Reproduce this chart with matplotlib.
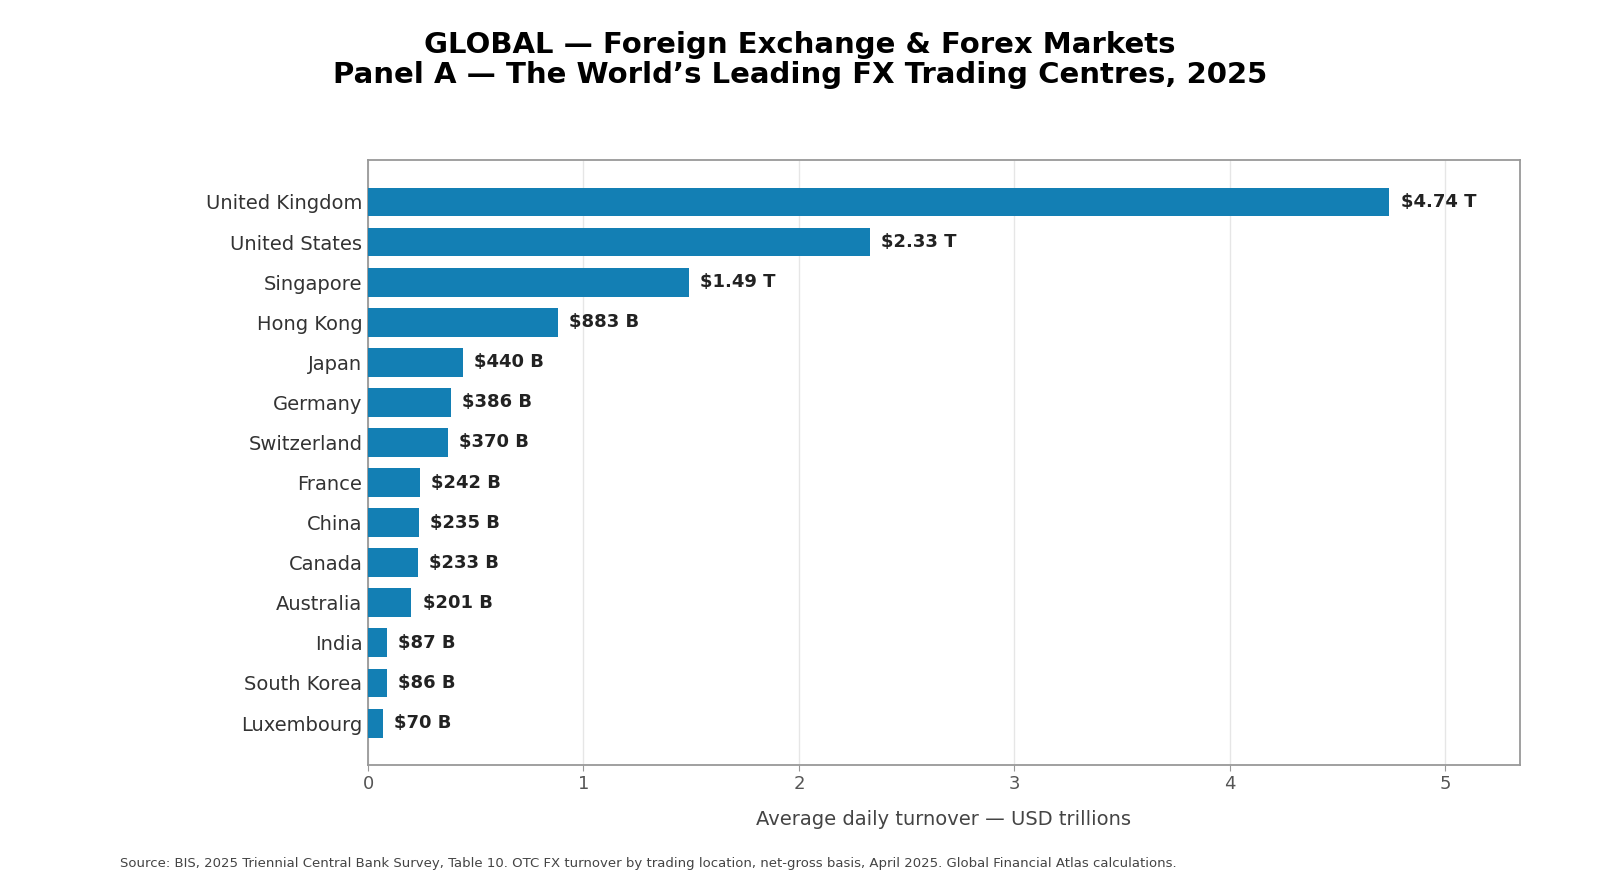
import matplotlib
matplotlib.use("Agg")
import matplotlib.pyplot as plt

countries = ["United Kingdom", "United States", "Singapore", "Hong Kong", "Japan",
             "Germany", "Switzerland", "France", "China", "Canada", "Australia",
             "India", "South Korea", "Luxembourg"]
turnover = [4.74, 2.33, 1.49, 0.883, 0.440, 0.386, 0.370, 0.242, 0.235, 0.233,
            0.201, 0.087, 0.086, 0.070]
labels = ["$4.74 T", "$2.33 T", "$1.49 T", "$883 B", "$440 B", "$386 B", "$370 B",
          "$242 B", "$235 B", "$233 B", "$201 B", "$87 B", "$86 B", "$70 B"]
xticks = [0, 1, 2, 3, 4, 5]

fig = plt.figure(figsize=(16, 8.9), dpi=100)
L, R, T, B = 368, 1520, 160, 765
ax = fig.add_axes([L/1600, 1-B/890, (R-L)/1600, (B-T)/890])

y = list(range(len(countries)))
ax.barh(y, turnover, height=0.72, color="#137fb4", zorder=3)
ax.invert_yaxis()
ax.set_yticks(y)
ax.set_yticklabels(countries, fontsize=14, color="#333333")
ax.set_xticks(xticks)
ax.set_xticklabels([str(t) for t in xticks], fontsize=13, color="#555555")
ax.set_xlim(0, 5.346)
ax.grid(axis="x", color="#e6e6e6", linewidth=1, zorder=0)
ax.tick_params(axis="y", length=0, pad=4)
ax.tick_params(axis="x", length=4, color="#999999")
for s in ax.spines.values():
    s.set_color("#999999")
    s.set_linewidth(1.3)

for yi, v, lab in zip(y, turnover, labels):
    ax.text(v + 0.052, yi, lab, va="center", ha="left", fontsize=13,
            fontweight="bold", color="#222222", zorder=4)

ax.set_xlabel("Average daily turnover — USD trillions", fontsize=14,
              color="#444444", labelpad=12)

fig.text(0.5, 1-60/890, "GLOBAL — Foreign Exchange & Forex Markets\nPanel A — The World’s Leading FX Trading Centres, 2025",
         ha="center", va="center", fontsize=21, fontweight="bold", color="black",
         linespacing=1.08)

fig.text(120/1600, 1-863/890,
         "Source: BIS, 2025 Triennial Central Bank Survey, Table 10. OTC FX turnover by trading location, net-gross basis, April 2025. Global Financial Atlas calculations.",
         ha="left", va="center", fontsize=9.5, color="#444444")

fig.savefig("out.png", dpi=100)
